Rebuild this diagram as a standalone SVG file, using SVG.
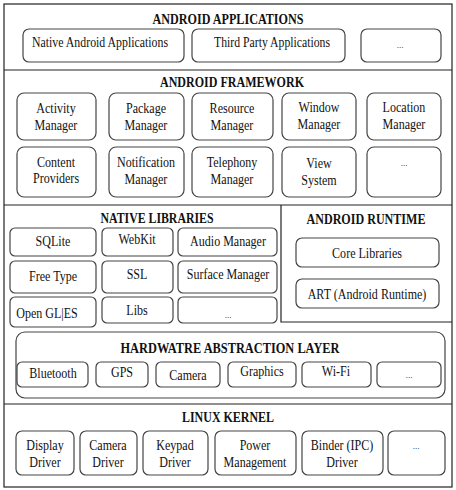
<svg xmlns="http://www.w3.org/2000/svg" width="456" height="490" viewBox="0 0 456 490">
<style>
.frame{fill:none;stroke:#222;stroke-width:1.2}
.box{fill:#fff;stroke:#444;stroke-width:1.2}
.t{font-family:"Liberation Serif","Times New Roman",serif;font-size:14px;fill:#111;text-anchor:middle}
.d{font-family:"Liberation Serif","Times New Roman",serif;font-size:9px;fill:#111;text-anchor:middle}
.h{font-family:"Liberation Serif","Times New Roman",serif;font-size:14px;font-weight:bold;fill:#111;text-anchor:middle}
</style>
<rect x="0" y="0" width="456" height="490" fill="#fff"/>
<g id="frame">
<rect class="frame" x="4" y="4" width="448" height="483"/>
<line class="frame" x1="4" y1="70" x2="452" y2="70"/>
<line class="frame" x1="4" y1="205" x2="452" y2="205"/>
<line class="frame" x1="4" y1="404" x2="452" y2="404"/>
<polyline class="frame" points="281,205 281,322 452,322"/>
</g>
<g id="android-applications">
<text class="h" x="228" y="24" textLength="151" lengthAdjust="spacingAndGlyphs">ANDROID APPLICATIONS</text>
<g id="app-native"><rect class="box" x="23" y="29" width="161" height="33" rx="6"/><text class="t" x="100" y="47" textLength="136" lengthAdjust="spacingAndGlyphs">Native Android Applications</text></g>
<g id="app-third"><rect class="box" x="192" y="29" width="153" height="33" rx="6"/><text class="t" x="272" y="47" textLength="116" lengthAdjust="spacingAndGlyphs">Third Party Applications</text></g>
<g id="app-more"><rect class="box" x="361" y="29" width="80" height="33" rx="6"/><text class="d" x="400" y="48">...</text></g>
</g>
<g id="android-framework">
<text class="h" x="232" y="87" textLength="144" lengthAdjust="spacingAndGlyphs">ANDROID FRAMEWORK</text>
<g id="fw-activity"><rect class="box" x="17" y="93" width="79" height="47" rx="7"/><text class="t" transform="matrix(.86 0 0 1 56 113)">Activity</text><text class="t" transform="matrix(.86 0 0 1 56 130)">Manager</text></g>
<g id="fw-package"><rect class="box" x="109" y="93" width="75" height="47" rx="7"/><text class="t" transform="matrix(.86 0 0 1 146 113)">Package</text><text class="t" transform="matrix(.86 0 0 1 146 130)">Manager</text></g>
<g id="fw-resource"><rect class="box" x="192" y="93" width="81" height="47" rx="7"/><text class="t" transform="matrix(.86 0 0 1 232 113)">Resource</text><text class="t" transform="matrix(.86 0 0 1 232 130)">Manager</text></g>
<g id="fw-window"><rect class="box" x="282" y="93" width="74" height="47" rx="7"/><text class="t" transform="matrix(.86 0 0 1 319 112)">Window</text><text class="t" transform="matrix(.86 0 0 1 319 129)">Manager</text></g>
<g id="fw-location"><rect class="box" x="367" y="93" width="74" height="47" rx="7"/><text class="t" transform="matrix(.86 0 0 1 404 112)">Location</text><text class="t" transform="matrix(.86 0 0 1 404 129)">Manager</text></g>
<g id="fw-content"><rect class="box" x="17" y="147" width="79" height="50" rx="7"/><text class="t" transform="matrix(.86 0 0 1 56 167)">Content</text><text class="t" transform="matrix(.86 0 0 1 56 183)">Providers</text></g>
<g id="fw-notification"><rect class="box" x="109" y="147" width="75" height="50" rx="7"/><text class="t" transform="matrix(.86 0 0 1 146 167)">Notification</text><text class="t" transform="matrix(.86 0 0 1 146 184)">Manager</text></g>
<g id="fw-telephony"><rect class="box" x="192" y="147" width="81" height="50" rx="7"/><text class="t" transform="matrix(.86 0 0 1 232 167)">Telephony</text><text class="t" transform="matrix(.86 0 0 1 232 184)">Manager</text></g>
<g id="fw-view"><rect class="box" x="282" y="147" width="74" height="50" rx="7"/><text class="t" transform="matrix(.86 0 0 1 319 168)">View</text><text class="t" transform="matrix(.86 0 0 1 319 185)">System</text></g>
<g id="fw-more"><rect class="box" x="367" y="147" width="74" height="50" rx="7"/><text class="d" x="404" y="166">...</text></g>
</g>
<g id="native-libraries">
<text class="h" x="157" y="223" textLength="113" lengthAdjust="spacingAndGlyphs">NATIVE LIBRARIES</text>
<g id="nl-sqlite"><rect class="box" x="10" y="228" width="86" height="28" rx="5"/><text class="t" transform="matrix(.86 0 0 1 53 246)">SQLite</text></g>
<g id="nl-webkit"><rect class="box" x="102" y="228" width="71" height="28" rx="5"/><text class="t" transform="matrix(.86 0 0 1 137 244)">WebKit</text></g>
<g id="nl-audio"><rect class="box" x="178" y="228" width="99" height="28" rx="5"/><text class="t" transform="matrix(.86 0 0 1 228 246)">Audio Manager</text></g>
<g id="nl-freetype"><rect class="box" x="10" y="261" width="86" height="32" rx="5"/><text class="t" transform="matrix(.86 0 0 1 53 281)">Free Type</text></g>
<g id="nl-ssl"><rect class="box" x="102" y="261" width="71" height="32" rx="5"/><text class="t" transform="matrix(.86 0 0 1 137 279)">SSL</text></g>
<g id="nl-surface"><rect class="box" x="178" y="261" width="99" height="32" rx="5"/><text class="t" transform="matrix(.86 0 0 1 228 279)">Surface Manager</text></g>
<g id="nl-opengl"><rect class="box" x="10" y="297" width="86" height="30" rx="5"/><text class="t" transform="matrix(.86 0 0 1 47 318)">Open GL|ES</text></g>
<g id="nl-libs"><rect class="box" x="102" y="297" width="71" height="26" rx="5"/><text class="t" transform="matrix(.86 0 0 1 137 315)">Libs</text></g>
<g id="nl-more"><rect class="box" x="178" y="297" width="99" height="26" rx="5"/><text class="d" x="228" y="318" font-size="8">...</text></g>
</g>
<g id="android-runtime">
<text class="h" x="366" y="224" textLength="119" lengthAdjust="spacingAndGlyphs">ANDROID RUNTIME</text>
<g id="rt-core"><rect class="box" x="296" y="238" width="143" height="29" rx="6"/><text class="t" transform="matrix(.86 0 0 1 367 258)">Core Libraries</text></g>
<g id="rt-art"><rect class="box" x="296" y="279" width="143" height="29" rx="6"/><text class="t" transform="matrix(.86 0 0 1 367 299)">ART (Android Runtime)</text></g>
</g>
<g id="hardware-abstraction-layer">
<rect class="box" x="16" y="332" width="429" height="66" rx="9"/>
<text class="h" x="230" y="353" textLength="219" lengthAdjust="spacingAndGlyphs">HARDWATRE ABSTRACTION LAYER</text>
<g id="hal-bluetooth"><rect class="box" x="17" y="362" width="71" height="25" rx="5"/><text class="t" transform="matrix(.86 0 0 1 53 378)">Bluetooth</text></g>
<g id="hal-gps"><rect class="box" x="96" y="362" width="52" height="25" rx="5"/><text class="t" transform="matrix(.86 0 0 1 122 377)">GPS</text></g>
<g id="hal-camera"><rect class="box" x="156" y="362" width="64" height="25" rx="5"/><text class="t" transform="matrix(.86 0 0 1 188 380)">Camera</text></g>
<g id="hal-graphics"><rect class="box" x="228" y="362" width="68" height="25" rx="5"/><text class="t" transform="matrix(.86 0 0 1 262 376)">Graphics</text></g>
<g id="hal-wifi"><rect class="box" x="302" y="362" width="69" height="25" rx="5"/><text class="t" transform="matrix(.86 0 0 1 336 376)">Wi-Fi</text></g>
<g id="hal-more"><rect class="box" x="377" y="362" width="64" height="25" rx="5"/><text class="d" x="409" y="378" font-size="8">...</text></g>
</g>
<g id="linux-kernel">
<text class="h" x="228" y="422" textLength="92" lengthAdjust="spacingAndGlyphs">LINUX KERNEL</text>
<g id="lk-display"><rect class="box" x="16" y="431" width="58" height="44" rx="6"/><text class="t" transform="matrix(.86 0 0 1 45 450)">Display</text><text class="t" transform="matrix(.86 0 0 1 45 467)">Driver</text></g>
<g id="lk-camera"><rect class="box" x="80" y="431" width="57" height="44" rx="6"/><text class="t" transform="matrix(.86 0 0 1 108 450)">Camera</text><text class="t" transform="matrix(.86 0 0 1 108 467)">Driver</text></g>
<g id="lk-keypad"><rect class="box" x="143" y="431" width="65" height="44" rx="6"/><text class="t" transform="matrix(.86 0 0 1 175 450)">Keypad</text><text class="t" transform="matrix(.86 0 0 1 175 467)">Driver</text></g>
<g id="lk-power"><rect class="box" x="215" y="431" width="81" height="44" rx="6"/><text class="t" transform="matrix(.86 0 0 1 255 450)">Power</text><text class="t" transform="matrix(.86 0 0 1 255 467)">Management</text></g>
<g id="lk-binder"><rect class="box" x="302" y="431" width="81" height="44" rx="6"/><text class="t" transform="matrix(.86 0 0 1 342 450)">Binder (IPC)</text><text class="t" transform="matrix(.86 0 0 1 342 467)">Driver</text></g>
<g id="lk-more"><rect class="box" x="388" y="431" width="57" height="44" rx="6"/><text class="d" x="416" y="449">...</text></g>
</g>
</svg>
